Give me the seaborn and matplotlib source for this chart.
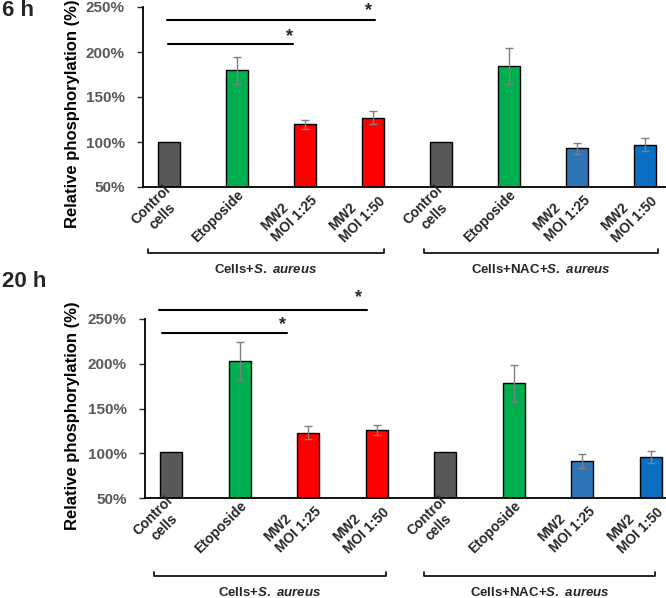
import numpy as np
import pandas as pd
import matplotlib
matplotlib.use("Agg")
import matplotlib.pyplot as plt
import matplotlib.transforms as mtransforms
from matplotlib.ticker import FuncFormatter
import seaborn as sns

# data
conditions = ['Control\ncells', 'Etoposide', 'MW2\nMOI 1:25', 'MW2\nMOI 1:50'] * 2
groups = ['Cells+$\\mathit{S.\\ aureus}$', 'Cells+NAC+$\\mathit{S.\\ aureus}$']
vals_6h = [100, 180, 120, 127, 100, 184, 93, 97]
err_6h = [0, 15, 5, 7, 0, 20, 6, 7]
vals_20h = [101, 203, 123, 126, 101, 178, 91, 96]
err_20h = [0, 21, 7, 6, 0, 21, 8, 7]
yticks = [50, 100, 150, 200, 250]
bar_colors = ['#595959', '#00b050', '#ff0000', '#ff0000',
              '#595959', '#00b050', '#2e75b6', '#0a6fc2']

sns.set_style('white')
plt.rcParams['font.family'] = ['Liberation Sans', 'DejaVu Sans']
plt.rcParams['font.weight'] = 'bold'
plt.rcParams['mathtext.fontset'] = 'custom'
plt.rcParams['mathtext.it'] = 'Liberation Sans:italic:bold'
plt.rcParams['mathtext.rm'] = 'Liberation Sans:bold'

fig = plt.figure(figsize=(6.66, 5.98), dpi=100)
ax1 = fig.add_axes([143/666, 1-187/598, 523/666, 180/598])
ax2 = fig.add_axes([145/666, 1-498/598, 521/666, 179/598])


def draw_panel(ax, vals, errs, xlim, sig, brackets, br_y, lab_y, ylab_pos):
    df = pd.DataFrame({'pos': np.arange(len(vals)), 'val': vals})
    sns.barplot(data=df, x='pos', y='val', hue='pos', palette=bar_colors,
                dodge=False, legend=False, width=0.32, errorbar=None,
                saturation=1, edgecolor='black', linewidth=1.0, ax=ax)
    e = np.array(errs)
    m = e > 0
    ax.errorbar(df['pos'][m], np.array(vals)[m], yerr=e[m], fmt='none',
                ecolor='#808080', elinewidth=1, capsize=3, capthick=1)
    ax.set_ylim(50, 250)
    ax.set_xlim(*xlim)
    ax.set_yticks(yticks)
    ax.yaxis.set_major_formatter(FuncFormatter(lambda v, p: f'{v:.0f}%'))
    ax.tick_params(axis='y', left=True, length=4, width=1, pad=9,
                   labelsize=11, labelcolor='#595959')
    ax.set_xticks(range(len(conditions)))
    ax.set_xticklabels([])
    ax.tick_params(axis='x', bottom=False)

    # rotated category labels
    tr = mtransforms.blended_transform_factory(ax.transData, ax.transAxes)
    off = mtransforms.ScaledTranslation(5/100, -6/100, fig.dpi_scale_trans)
    for i, c in enumerate(conditions):
        ax.text(i, 0, c, transform=tr + off, rotation=45, rotation_mode='anchor',
                ha='right', va='center', fontsize=10, fontweight='bold',
                multialignment='left' if c.startswith('MW2') else 'center')

    for s in ['top', 'right']:
        ax.spines[s].set_visible(False)
    for s in ['left', 'bottom']:
        ax.spines[s].set_color('black')
        ax.spines[s].set_linewidth(1.3)
    ax.set_xlabel('')
    ax.set_ylabel('Relative phosphorylation (%)', fontsize=12,
                  fontweight='bold', color='black')
    ax.yaxis.set_label_coords(*ylab_pos)

    # significance bars
    for x0, x1, y, sx, sy in sig:
        ax.plot([x0, x1], [y, y], color='black', lw=1.5, clip_on=False)
        ax.text(sx, sy, '*', ha='center', va='center', fontsize=13,
                fontweight='bold', clip_on=False)

    # group brackets
    for (x0, x1), g in zip(brackets, groups):
        ax.plot([x0, x0, x1, x1], [br_y + 0.025, br_y, br_y, br_y + 0.025],
                color='black', lw=1.2, transform=tr, clip_on=False)
        ax.text((x0 + x1) / 2, lab_y, g, transform=tr, ha='center',
                va='center', fontsize=9.5, fontweight='bold')


draw_panel(ax1, vals_6h, err_6h, (-0.38, 7.31),
           [(-0.03, 3.03, 235.6, 2.93, 245.6), (-0.01, 1.83, 208.9, 1.77, 216.7)],
           [(-0.31, 3.16), (3.75, 7.19)], -0.367, -0.46, (-0.12, 0.41))
draw_panel(ax2, vals_20h, err_20h, (-0.38, 7.22),
           [(-0.17, 2.86, 260.0, 2.74, 273.5), (-0.13, 1.69, 234.4, 1.63, 243.3)],
           [(-0.25, 3.13), (3.69, 7.06)], -0.436, -0.53, (-0.125, 0.46))

fig.text(0.003, 1.0, '6 h', ha='left', va='top', fontsize=16, fontweight='bold')
fig.text(0.003, 1 - 271/598, '20 h', ha='left', va='top', fontsize=16,
         fontweight='bold')

fig.savefig('out.png', dpi=100)
